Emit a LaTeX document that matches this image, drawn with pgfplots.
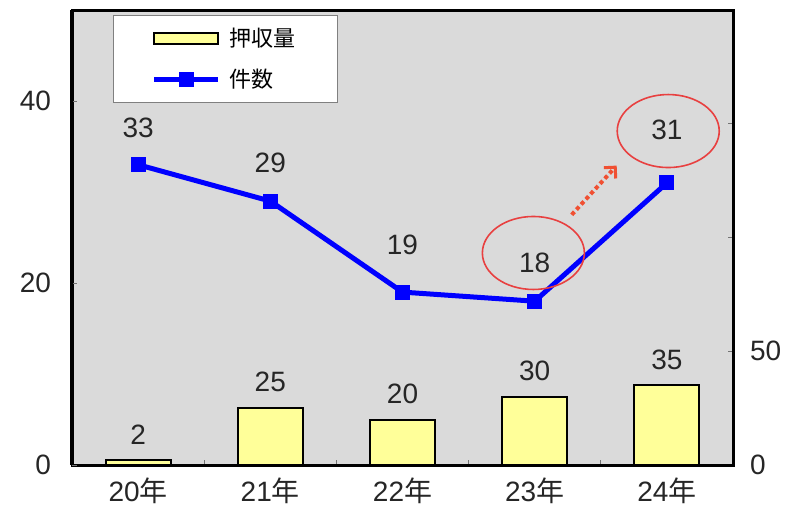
\documentclass[border=0pt]{standalone}
\usepackage{fontspec}
\setmainfont{Liberation Sans}
\newfontfamily\cjk{Noto Sans CJK JP}
\usepackage{pgfplots}
\pgfplotsset{compat=1.18}
\usepackage{pgfplotstable}
\usetikzlibrary{arrows.meta}

\definecolor{bgray}{RGB}{218,218,218}
\definecolor{baryel}{RGB}{255,255,153}
\definecolor{lineblue}{RGB}{0,0,255}
\definecolor{ringred}{RGB}{232,64,64}
\definecolor{arrred}{RGB}{240,80,50}

\pgfplotsset{
  longline legend/.style={
    legend image code/.code={
      \draw[mark repeat=2, mark phase=2, ##1] plot coordinates {(0pt,0pt) (16pt,0pt) (32pt,0pt)};}},
}

% 件数 (left axis), dy = label offset in pt
\pgfplotstableread{
x y dy
0 33 18.5
1 29 19
2 19 23.5
3 18 19
4 31 26.5
}\counts

% 押収量 (right axis)
\pgfplotstableread{
x y
0 2
1 25
2 20
3 30
4 35
}\seized

\begin{document}
\begin{tikzpicture}
\path[use as bounding box] (-36pt,-25pt) rectangle (362pt,232.5pt);
\pgfplotsset{
  every axis/.append style={
    scale only axis, width=330.5pt, height=227.5pt,
    xmin=-0.5, xmax=4.5,
    /pgf/number format/assume math mode=true,
    tick style={black!55, line width=0.5pt},
    major tick length=2.5pt,
    ticklabel style={font=\fontsize{14}{16}\selectfont, text=black!85},
  },
}

% bars, right axis, frame and background
\begin{axis}[
  axis background/.style={fill=bgray},
  axis line style={line width=1.5pt},
  ymin=0, ymax=200,
  ytick={0,50,100,150}, yticklabels={0,50,,},
  ytick pos=right, yticklabel pos=right,
  yticklabel style={xshift=5pt},
  xtick={0.5,1.5,2.5,3.5}, xticklabels={},
  xtick pos=bottom,
  extra x ticks={0,1,2,3,4},
  extra x tick labels={20{\cjk 年},21{\cjk 年},22{\cjk 年},23{\cjk 年},24{\cjk 年}},
  extra x tick style={tick style={draw=none}},
  xticklabel style={yshift=-3pt},
]
\addplot[ybar, bar width=32.5pt, fill=baryel, draw=black, line width=1pt,
  nodes near coords,
  every node near coord/.append style={anchor=center, yshift=13pt, text=black!85,
    font=\fontsize{14}{16}\selectfont},
] table[x=x, y=y] {\seized};
\end{axis}

% line, left axis
\begin{axis}[
  ymin=0, ymax=50,
  hide x axis,
  axis y line*=left,
  axis line style={line width=1.5pt},
  ytick={0,20,40},
  yticklabel style={xshift=-7pt},
  legend style={at={(0.062,0.989)}, anchor=north west, draw=black!50,
    line width=0.6pt, fill=white, font=\fontsize{11}{13}\selectfont,
    inner xsep=19pt, inner ysep=4pt, row sep=6pt, column sep=2.5pt},
  legend cell align=left,
]
\addlegendimage{legend image code/.code={
  \draw[fill=baryel, draw=black, line width=1pt] (0pt,-2.75pt) rectangle (32pt,2.75pt);}}
\addlegendentry{\cjk 押収量}
\addplot[lineblue, line width=2.5pt, mark=square*, mark size=3.5pt,
  mark options={line width=0.5pt},
  longline legend,
  nodes near coords,
  visualization depends on={\thisrow{dy}\as\dy},
  every node near coord/.append style={anchor=center, yshift=\dy pt, text=black!85,
    font=\fontsize{14}{16}\selectfont},
] table[x=x, y=y] {\counts};
\addlegendentry{\cjk 件数}

\draw[ringred, line width=0.8pt] (axis cs:2.99,23.3) ellipse [x radius=25.5pt, y radius=18.25pt];
\draw[ringred, line width=0.8pt] (axis cs:4.01,36.7) ellipse [x radius=25.5pt, y radius=18.25pt];
\draw[arrred, line width=2pt, dash pattern=on 2pt off 1.5pt,
  -{Straight Barb[length=4pt, width=8pt, line width=1.5pt]}]
  (axis cs:3.28,27.5) -- (axis cs:3.62,32.9);
\end{axis}
\end{tikzpicture}
\end{document}
